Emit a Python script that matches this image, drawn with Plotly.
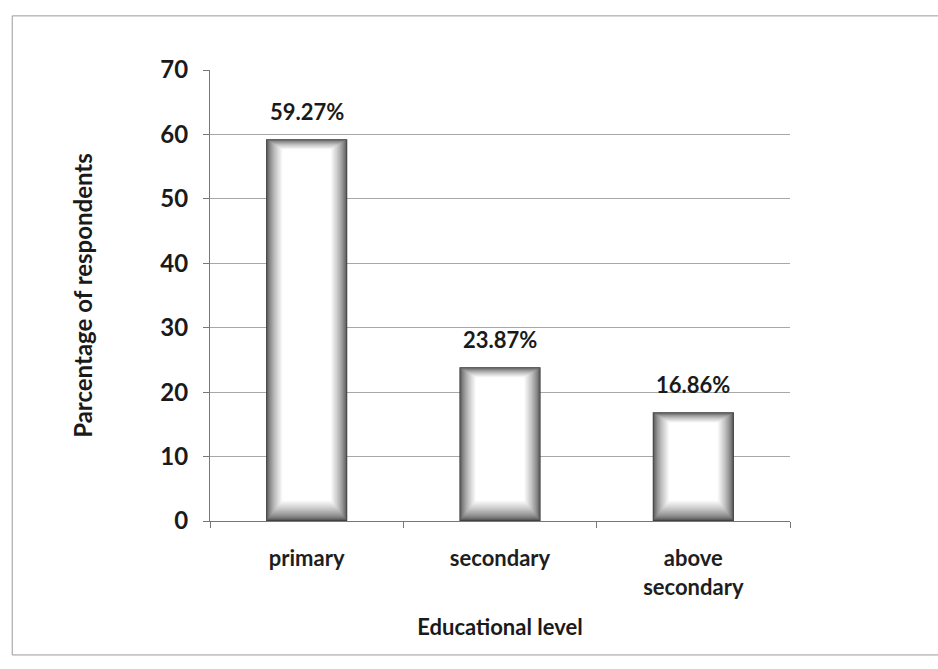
import plotly.graph_objects as go

# Respondents by educational level
categories = ["primary", "secondary", "above<br>secondary"]
percentages = [59.27, 23.87, 16.86]
value_labels = ["59.27%", "23.87%", "16.86%"]
y_ticks = [0, 10, 20, 30, 40, 50, 60, 70]

fig = go.Figure()

# Each bar is built from stacked layers, dark at the rim and white in the centre,
# to give the shaded cylinder look.
n_layers = 28
for k in range(n_layers):
    t = k / (n_layers - 1)
    level = int(60 + 195 * (t ** 0.6))
    color = f"rgb({level},{level},{level})"
    width = 0.42 - 0.17 * t
    base_lift = 3.2 * t
    top_drop = 1.6 * t
    fig.add_trace(go.Bar(
        x=categories,
        y=[v - base_lift - top_drop for v in percentages],
        base=[base_lift] * len(percentages),
        width=width,
        marker=dict(color=color, line=dict(width=0)),
        hoverinfo="skip",
        showlegend=False,
    ))

for cat, v, lab in zip(categories, percentages, value_labels):
    fig.add_annotation(
        x=cat, y=v, text=f"<b>{lab}</b>", showarrow=False, yshift=28,
        font=dict(family="Lato", size=22, color="#1a1a1a"),
    )

# Outer chart frame
fig.add_shape(type="rect", xref="paper", yref="paper",
              x0=-0.341, x1=1.3, y0=-0.297, y1=1.12,
              line=dict(color="#9a9a9a", width=1), layer="below")

fig.update_layout(
    width=938, height=669,
    margin=dict(l=210, r=148, t=70, b=148),
    paper_bgcolor="white", plot_bgcolor="white",
    barmode="overlay",
    font=dict(family="Lato", color="#1a1a1a"),
    xaxis=dict(
        showline=True, linecolor="#777777", linewidth=1,
        ticks="outside", tickson="boundaries", ticklen=6, tickcolor="#777777",
        tickfont=dict(size=22, family="Lato", weight="bold", color="#1e1e1e"),
        ticklabelstandoff=18,
        title=dict(text="<b>Educational level</b>", font=dict(size=22), standoff=20),
        showgrid=False,
    ),
    yaxis=dict(
        range=[0, 70], tickvals=y_ticks,
        showline=True, linecolor="#777777", linewidth=1,
        ticks="outside", ticklen=6, tickcolor="#777777",
        tickfont=dict(size=24, family="Lato", weight="bold"),
        ticklabelstandoff=10,
        showgrid=True, gridcolor="#a8a8a8", gridwidth=1,
        zeroline=False,
        title=dict(text="<b>Parcentage of respondents</b>", font=dict(size=24), standoff=60),
    ),
)

fig.write_html("out.html")
